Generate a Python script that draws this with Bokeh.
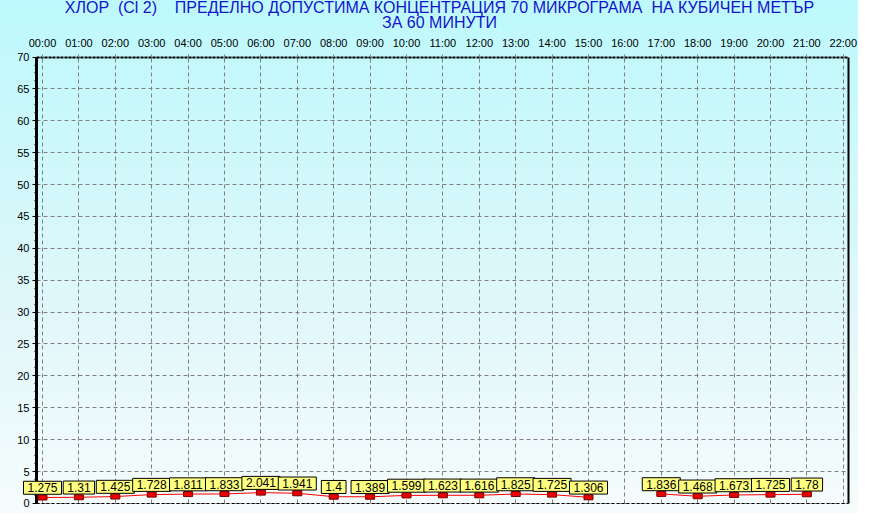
from bokeh.plotting import figure
from bokeh.models import (FixedTicker, LinearAxis, Label, ColumnDataSource, Range1d)
from bokeh.transform import dodge
from bokeh.core.properties import value
from bokeh.embed import file_html
from bokeh.resources import INLINE

# ---- data ----
tick_labels = ["00:00", "01:00", "02:00", "03:00", "04:00", "05:00", "06:00", "07:00",
               "08:00", "09:00", "10:00", "11:00", "12:00", "13:00", "14:00", "15:00",
               "16:00", "17:00", "18:00", "19:00", "20:00", "21:00", "22:00"]
hours = [0, 1, 2, 3, 4, 5, 6, 7, 8, 9, 10, 11, 12, 13, 14, 15, 17, 18, 19, 20, 21]
values = [1.275, 1.31, 1.425, 1.728, 1.811, 1.833, 2.041, 1.941, 1.4, 1.389, 1.599,
          1.623, 1.616, 1.825, 1.725, 1.306, 1.836, 1.468, 1.673, 1.725, 1.78]
y_ticks = [0, 5, 10, 15, 20, 25, 30, 35, 40, 45, 50, 55, 60, 65, 70]
title_line1 = "ХЛОР\u00a0 (Cl 2)\u00a0\u00a0\u00a0 ПРЕДЕЛНО ДОПУСТИМА КОНЦЕНТРАЦИЯ 70 МИКРОГРАМА\u00a0 НА КУБИЧЕН МЕТЪР"
title_line2 = "ЗА 60 МИНУТИ"

FONT = "Liberation Sans"
W, H = 858, 513
# chart box (axes) inside the full-size frame
X_AXIS, X_RIGHT = -0.1648, 22.137
Y_BOT, Y_TOP = 0, 70
X0, X1 = -1.1538, 22.418
Y0, Y1 = -1.584, 78.869

# line with a break where an hour is missing
line_x, line_y = [], []
for i, (h, v) in enumerate(zip(hours, values)):
    if i > 0 and h - hours[i - 1] > 1:
        line_x.append(float("nan"))
        line_y.append(float("nan"))
    line_x.append(h)
    line_y.append(v)

src = ColumnDataSource(dict(x=hours, y=values, label=[f"{v:g}" for v in values]))
lsrc = ColumnDataSource(dict(x=line_x, y=line_y))

p = figure(width=W, height=H, output_backend="svg", toolbar_location=None,
           x_range=Range1d(X0, X1), y_range=Range1d(Y0, Y1),
           x_axis_location="above", y_axis_location="left",
           min_border_left=0, min_border_right=0, min_border_top=0, min_border_bottom=0)
p.border_fill_color = None
p.background_fill_color = None
p.outline_line_color = None
p.styles = {"background": "linear-gradient(to bottom, #bdf9fc 0%, #e0f7fa 60%, #f6fcfc 100%)"}

# top axis (hours)
xa = p.xaxis[0]
xa.fixed_location = Y_TOP
xa.bounds = (X_AXIS, X_RIGHT)
xa.ticker = FixedTicker(ticks=list(range(len(tick_labels))))
xa.major_label_overrides = {i: t for i, t in enumerate(tick_labels)}
xa.major_label_text_font = FONT
xa.major_label_text_font_size = "11px"
xa.major_label_text_color = "black"
xa.major_label_standoff = 5
xa.major_tick_in = 0
xa.major_tick_out = 3
xa.major_tick_line_color = "#808080"
xa.minor_tick_line_color = None
xa.axis_line_color = "black"
xa.axis_line_width = 2
xa.axis_line_dash = "3 1"

# left axis
ya = p.yaxis[0]
ya.fixed_location = X_AXIS
ya.bounds = (Y_BOT, Y_TOP)
ya.ticker = FixedTicker(ticks=y_ticks,
                        minor_ticks=[t + k * 1.25 for t in y_ticks[:-1] for k in (1, 2, 3)])
ya.major_label_text_font = FONT
ya.major_label_text_font_size = "11px"
ya.major_label_text_color = "black"
ya.major_label_standoff = 3
ya.major_tick_in = 0
ya.major_tick_out = 4
ya.minor_tick_in = 0
ya.minor_tick_out = 2
ya.major_tick_line_color = "black"
ya.minor_tick_line_color = "black"
ya.axis_line_color = "black"
ya.axis_line_width = 3

# bottom (dashed) and right (solid) frame edges
bottom = LinearAxis(ticker=FixedTicker(ticks=[]), fixed_location=Y_BOT, bounds=(X_AXIS, X_RIGHT),
                    axis_line_color="black", axis_line_dash="3 2", axis_line_width=1,
                    major_tick_line_color=None, minor_tick_line_color=None)
p.add_layout(bottom, "below")
right = LinearAxis(ticker=FixedTicker(ticks=[]), fixed_location=X_RIGHT, bounds=(Y_BOT, Y_TOP),
                   axis_line_color="black", axis_line_width=2,
                   major_tick_line_color=None, minor_tick_line_color=None)
p.add_layout(right, "right")

p.xgrid.ticker = xa.ticker
p.xgrid[0].cross_bounds = (Y_BOT, Y_TOP)
p.ygrid.ticker = FixedTicker(ticks=y_ticks)
p.ygrid[0].cross_bounds = (X_AXIS, X_RIGHT)
for g in (p.xgrid[0], p.ygrid[0]):
    g.grid_line_color = "#808080"
    g.grid_line_dash = "4 3"
    g.grid_line_width = 1

# series
p.line("x", dodge("y", -0.35, range=p.y_range), source=lsrc, line_color="#ff0000", line_width=1)
p.rect("x", dodge("y", -0.35, range=p.y_range), width=9, height=5,
       width_units="screen", height_units="screen", source=src,
       fill_color="#e80000", line_color="#800000", line_width=1, level="overlay")
p.text("x", "y", text="label", source=src, text_font=value(FONT), text_font_size="12px",
       text_color="black", text_align="center", text_baseline="bottom",
       background_fill_color="#ffff80", border_line_color="black", border_line_width=1,
       padding=dict(left=4, right=4, top=2, bottom=2), y_offset=-1, level="overlay")

# title (two lines)
for txt, yy in ((title_line1, H - 7), (title_line2, H - 22)):
    p.add_layout(Label(x=439, y=yy, x_units="screen", y_units="screen", text=txt,
                       text_font=FONT, text_font_size="16px", text_color="#1414c8",
                       text_align="center", text_baseline="alphabetic"))

open("out.html", "w").write(file_html(p, INLINE))
